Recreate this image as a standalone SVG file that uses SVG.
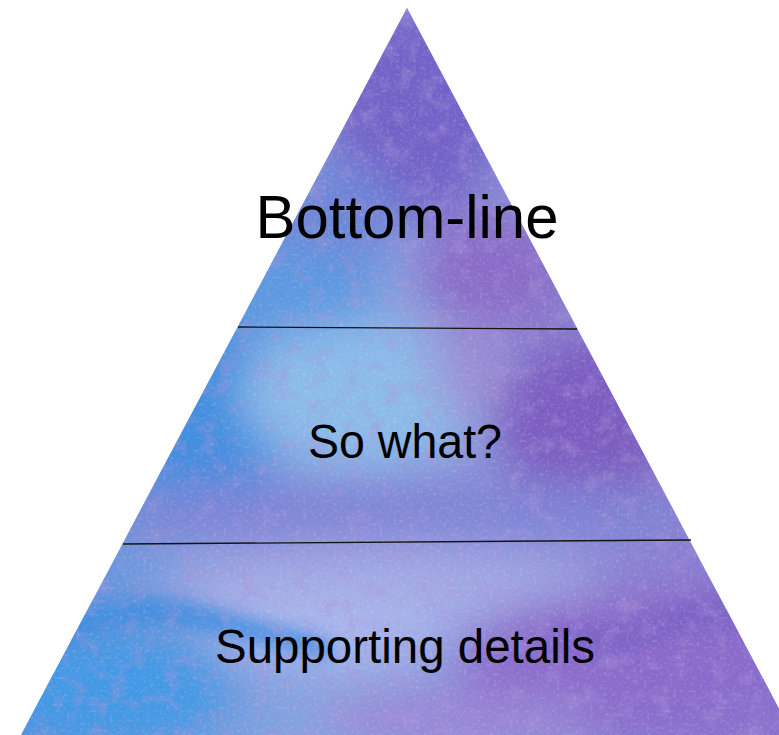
<svg xmlns="http://www.w3.org/2000/svg" width="779" height="735" viewBox="0 0 779 735">
  <style>
    .label { font-family: "Liberation Sans", Arial, sans-serif; fill: #000; text-anchor: middle; }
    .divider { stroke: #141414; stroke-width: 1.4; fill: none; }
  </style>
  <defs>
    <clipPath id="pyramid-clip">
      <polygon points="407,8 21,735 793,735"/>
    </clipPath>
    <linearGradient id="wash" x1="0" y1="0" x2="1" y2="0">
      <stop offset="0" stop-color="#5a90dc"/>
      <stop offset="0.45" stop-color="#8ba6e0"/>
      <stop offset="1" stop-color="#8a72cc"/>
    </linearGradient>
    <filter id="soft" x="-50%" y="-50%" width="200%" height="200%">
      <feGaussianBlur stdDeviation="22"/>
    </filter>
    <filter id="soft-edge" x="-50%" y="-50%" width="200%" height="200%">
      <feGaussianBlur stdDeviation="8"/>
    </filter>
    <!-- mottled pigment blotches -->
    <filter id="mottle" x="0" y="0" width="100%" height="100%">
      <feTurbulence type="fractalNoise" baseFrequency="0.055" numOctaves="4" seed="7" result="n"/>
      <feColorMatrix in="n" type="matrix" values="0 0 0 0 0.40  0 0 0 0 0.30  0 0 0 0 0.70  3.0 0 0 0 -1.45"/>
    </filter>
    <!-- fine paper grain -->
    <filter id="grain" x="0" y="0" width="100%" height="100%">
      <feTurbulence type="fractalNoise" baseFrequency="0.45" numOctaves="2" seed="3" result="g"/>
      <feColorMatrix in="g" type="matrix" values="0 0 0 0 0.35  0 0 0 0 0.30  0 0 0 0 0.65  2.5 0 0 0 -1.25"/>
    </filter>
    <!-- light speckle of the paper showing through -->
    <filter id="speckle" x="0" y="0" width="100%" height="100%">
      <feTurbulence type="fractalNoise" baseFrequency="0.3" numOctaves="2" seed="11" result="s"/>
      <feColorMatrix in="s" type="matrix" values="0 0 0 0 0.80  0 0 0 0 0.82  0 0 0 0 0.95  3 0 0 0 -1.6"/>
    </filter>
  </defs>

  <!-- watercolour wash inside the pyramid -->
  <g id="wash-layer" clip-path="url(#pyramid-clip)">
    <rect x="0" y="0" width="779" height="735" fill="url(#wash)"/>
    <g filter="url(#soft)">
      <ellipse cx="415" cy="110" rx="90" ry="110" fill="#7262c8"/>
      <ellipse cx="330" cy="220" rx="70" ry="60" fill="#6e86d8"/>
      <ellipse cx="290" cy="290" rx="90" ry="45" fill="#5a9ae2"/>
      <ellipse cx="500" cy="270" rx="80" ry="60" fill="#8a6cc8"/>
      <ellipse cx="200" cy="420" rx="80" ry="100" fill="#3f8ee0"/>
      <ellipse cx="360" cy="395" rx="120" ry="70" fill="#8cbeea"/>
      <ellipse cx="585" cy="420" rx="90" ry="85" fill="#7c5cc0"/>
      <ellipse cx="470" cy="370" rx="40" ry="45" fill="#9c90d6"/>
      <ellipse cx="400" cy="515" rx="300" ry="38" fill="#7f84d6"/>
      <ellipse cx="380" cy="585" rx="220" ry="40" fill="#a3aae4"/>
      <ellipse cx="110" cy="690" rx="120" ry="55" fill="#3f9ae6"/>
      <ellipse cx="330" cy="630" rx="120" ry="38" fill="#a8b6ec"/>
      <ellipse cx="630" cy="665" rx="170" ry="75" fill="#8a6acb"/>
      <ellipse cx="460" cy="720" rx="140" ry="30" fill="#9a86d6"/>
    </g>
    <g filter="url(#soft-edge)" opacity="0.8">
      <path d="M60,620 Q130,585 200,605 Q260,620 330,640 L330,660 Q250,640 190,630 Q120,615 60,650 Z" fill="#3a8de0"/>
      <path d="M560,620 Q620,640 660,610 Q700,590 740,600 L750,630 Q700,620 660,640 Q610,660 560,640 Z" fill="#7a60c4"/>
    </g>
    <rect x="0" y="0" width="779" height="735" filter="url(#mottle)" opacity="0.4"/>
    <rect x="0" y="0" width="779" height="735" filter="url(#grain)" opacity="0.3"/>
    <rect x="0" y="0" width="779" height="735" filter="url(#speckle)" opacity="0.2"/>
  </g>

  <!-- tier dividers -->
  <g id="connectors">
    <line class="divider" x1="238" y1="327" x2="577" y2="329"/>
    <line class="divider" x1="123" y1="544" x2="691" y2="540"/>
  </g>

  <g id="tier-bottom-line">
    <text class="label" x="407" y="238" font-size="62" textLength="303" lengthAdjust="spacingAndGlyphs">Bottom-line</text>
  </g>
  <g id="tier-so-what">
    <text class="label" x="405" y="458" font-size="48" textLength="194" lengthAdjust="spacingAndGlyphs">So what?</text>
  </g>
  <g id="tier-supporting-details">
    <text class="label" x="405" y="663" font-size="48" textLength="380" lengthAdjust="spacingAndGlyphs">Supporting details</text>
  </g>
</svg>
